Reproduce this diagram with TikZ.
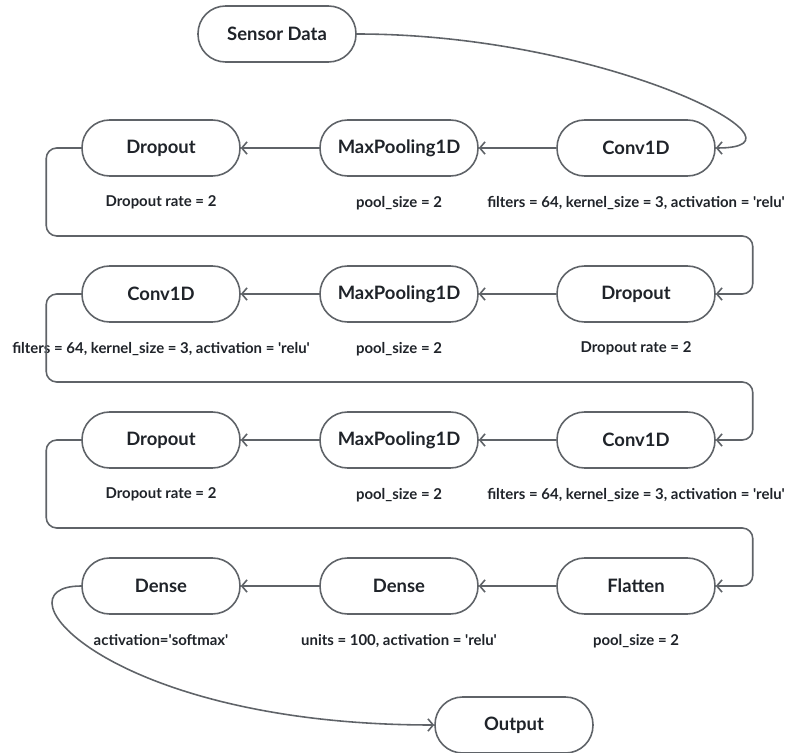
\documentclass[tikz,border=0pt]{standalone}
\usepackage{fontspec}
\setmainfont{Lato}
\usepackage{tikz}
\usetikzlibrary{arrows.meta, calc, positioning}
\definecolor{edge}{HTML}{5F6368}
\definecolor{ink}{HTML}{1F2329}
\newcommand{\sq}{\textquotesingle}

\begin{document}
\begin{tikzpicture}[x=0.02cm, y=-0.02cm,
        layer/.style={draw=edge, line width=0.9pt, rounded corners=0.55cm,
                      minimum width=3.16cm, minimum height=1.12cm,
                      text=ink, font=\fontsize{10.5}{12}\selectfont\bfseries},
        info/.style={text=ink, font=\fontsize{8.5}{10}\selectfont\bfseries},
        arr/.style={-{Straight Barb[length=3pt, width=7pt]}, draw=edge, line width=0.9pt},
        wrap/.style={arr, rounded corners=6pt}
      ]
      \useasboundingbox (0,0) rectangle (795,753);

      \node[layer] (sensor) at (277,34)  {Sensor Data};
      \node[layer] (output) at (514,725) {Output};

      % row 1
      \node[layer] (convA) at (636,148) {Conv1D};
      \node[layer] (poolA) at (399,148) {MaxPooling1D};
      \node[layer] (dropA) at (161,148) {Dropout};
      % row 2
      \node[layer] (dropB) at (636,294) {Dropout};
      \node[layer] (poolB) at (399,294) {MaxPooling1D};
      \node[layer] (convB) at (161,294) {Conv1D};
      % row 3
      \node[layer] (convC) at (636,440) {Conv1D};
      \node[layer] (poolC) at (399,440) {MaxPooling1D};
      \node[layer] (dropC) at (161,440) {Dropout};
      % row 4
      \node[layer] (flat)   at (636,586) {Flatten};
      \node[layer] (denseA) at (399,586) {Dense};
      \node[layer] (denseB) at (161,586) {Dense};

      \node[info, below=0.26cm of convA]  {filters = 64, kernel\_size = 3, activation = \sq relu\sq};
      \node[info, below=0.26cm of poolA]  {pool\_size = 2};
      \node[info, below=0.26cm of dropA]  {Dropout rate = 2};
      \node[info, below=0.26cm of dropB]  {Dropout rate = 2};
      \node[info, below=0.26cm of poolB]  {pool\_size = 2};
      \node[info, below=0.26cm of convB]  {filters = 64, kernel\_size = 3, activation = \sq relu\sq};
      \node[info, below=0.26cm of convC]  {filters = 64, kernel\_size = 3, activation = \sq relu\sq};
      \node[info, below=0.26cm of poolC]  {pool\_size = 2};
      \node[info, below=0.26cm of dropC]  {Dropout rate = 2};
      \node[info, below=0.26cm of flat]   {pool\_size = 2};
      \node[info, below=0.26cm of denseA] {units = 100, activation = \sq relu\sq};
      \node[info, below=0.26cm of denseB] {activation=\sq softmax\sq};

      \draw[arr] (sensor.east) to[out=0, in=0, out distance=5cm, in distance=2.2cm] (convA.east);
      \draw[arr] (convA) -- (poolA);
      \draw[arr] (poolA) -- (dropA);
      \draw[wrap] (dropA.west) -- ++(-35,0) -- ++(0,88) -| ($(dropB.east)+(37,0)$) -- (dropB.east);
      \draw[arr] (dropB) -- (poolB);
      \draw[arr] (poolB) -- (convB);
      \draw[wrap] (convB.west) -- ++(-35,0) -- ++(0,88) -| ($(convC.east)+(37,0)$) -- (convC.east);
      \draw[arr] (convC) -- (poolC);
      \draw[arr] (poolC) -- (dropC);
      \draw[wrap] (dropC.west) -- ++(-35,0) -- ++(0,88) -| ($(flat.east)+(37,0)$) -- (flat.east);
      \draw[arr] (flat) -- (denseA);
      \draw[arr] (denseA) -- (denseB);
      \draw[arr] (denseB.west) to[out=180, in=180, out distance=1.8cm, in distance=6.5cm] (output.west);
    \end{tikzpicture}
\end{document}
